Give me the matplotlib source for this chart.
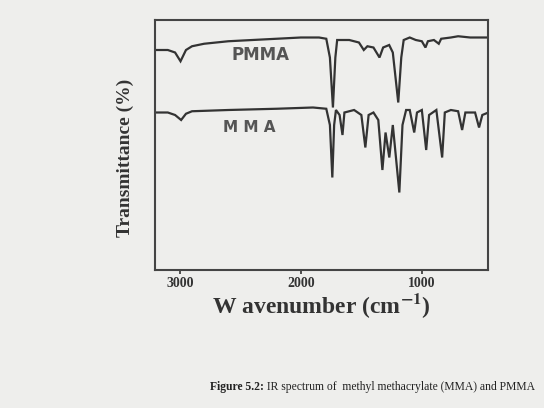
import matplotlib
matplotlib.use("Agg")
import matplotlib.pyplot as plt

plt.rcParams['mathtext.fontset'] = 'stix'

# PMMA spectrum vertices (wavenumber cm^-1, transmittance a.u.)
pmma_wn = [3200, 3100, 3040, 2995, 2950, 2900, 2800, 2600, 2400, 2200, 2000, 1850,
           1790, 1760, 1735, 1715, 1700, 1600, 1520, 1480, 1450, 1400, 1350, 1320,
           1270, 1240, 1195, 1170, 1150, 1100, 1050, 1000, 970, 950, 900, 860, 840,
           760, 700, 600, 450]
pmma_t = [88, 88, 87, 83.5, 88, 89.5, 90.5, 91.5, 92, 92.5, 93, 93,
          92.5, 85, 65, 85, 92, 92, 91, 88, 89.5, 89, 85, 89,
          90, 87, 67, 85, 92, 93, 92, 91.5, 89, 91.5, 92, 90.5, 92.5,
          93, 93.5, 93, 93]

# MMA spectrum vertices
mma_wn = [3200, 3100, 3040, 2990, 2950, 2900, 2600, 2200, 1900, 1790, 1760, 1740,
          1725, 1710, 1680, 1656, 1640, 1560, 1500, 1467, 1440, 1400, 1360, 1326,
          1300, 1269, 1240, 1186, 1160, 1130, 1100, 1063, 1040, 1000, 964, 940,
          880, 832, 810, 760, 700, 667, 640, 560, 527, 500, 450]
mma_t = [63, 63, 62, 60, 62.5, 63.5, 64, 64.5, 65, 64.5, 58, 37,
         58, 64, 62, 54, 63, 64, 62, 49, 62, 63, 60, 40,
         55, 45, 58, 31, 58, 64, 64, 55, 63, 64, 48, 62,
         64, 45, 63, 64, 63.5, 56, 63, 63, 57, 62, 63]

xticks = [3000, 2000, 1000]
xtick_labels = ["3000", "2000", "1000"]
series_labels = ["PMMA", "M M A"]

bg = '#eeeeec'
ink = '#333333'

fig = plt.figure(figsize=(5.44, 4.08), dpi=100, facecolor=bg)
ax = fig.add_axes([155/544, 1-270/408, (488-155)/544, 250/408], facecolor=bg)

ax.plot(pmma_wn, pmma_t, color=ink, lw=1.6, solid_joinstyle='miter')
ax.plot(mma_wn, mma_t, color=ink, lw=1.6, solid_joinstyle='miter')

ax.set_xlim(3206, 453)
ax.set_ylim(0, 100)
ax.set_yticks([])
ax.set_xticks(xticks)
ax.set_xticklabels(xtick_labels, fontfamily='Liberation Serif', fontweight='bold',
                   fontsize=10, color=ink)
ax.tick_params(axis='x', direction='out', length=3, width=1.2, color=ink, pad=2)
for s in ax.spines.values():
    s.set_color('#444444')
    s.set_linewidth(1.5)

ax.text(2330, 86, series_labels[0], fontfamily='DejaVu Sans', fontweight='bold',
        fontsize=12, color='#555555', ha='center', va='center')
ax.text(2430, 57, series_labels[1], fontfamily='DejaVu Sans', fontweight='bold',
        fontsize=11, color='#555555', ha='center', va='center')

ax.set_ylabel("Transmittance (%)", fontfamily='Liberation Serif', fontweight='bold',
              fontsize=14, color=ink)
ax.yaxis.set_label_coords(-0.062, 0.45)
ax.set_xlabel("W avenumber (cm$^{\\mathbf{-1}}$)", fontfamily='Liberation Serif',
              fontweight='bold', fontsize=17, color=ink, labelpad=1)

t1 = fig.text(210/544, 1-390/408, "Figure 5.2:", fontfamily='Liberation Serif',
              fontweight='bold', fontsize=8.4, color='#222222', ha='left', va='baseline')
ax.annotate(" IR spectrum of  methyl methacrylate (MMA) and PMMA", xy=(1, 0),
            xycoords=t1, xytext=(0, 0), textcoords='offset points',
            fontfamily='Liberation Serif', fontsize=8.4, color='#222222',
            ha='left', va='bottom', annotation_clip=False)

fig.savefig("out.png", dpi=100, facecolor=bg)
